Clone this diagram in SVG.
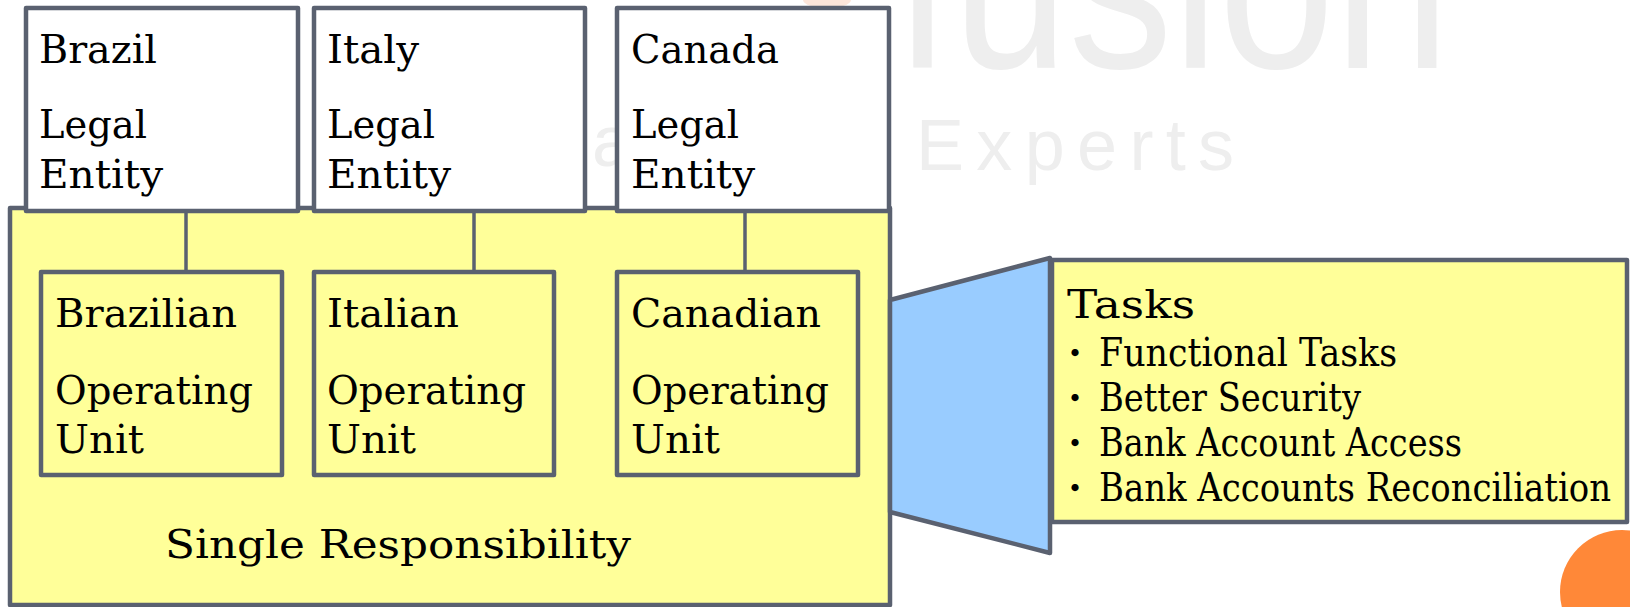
<svg xmlns="http://www.w3.org/2000/svg" width="1630" height="607" viewBox="0 0 1630 607">
<style>
.box{stroke:#5a6170;stroke-width:4.5;stroke-linejoin:round}
.le{fill:#ffffff}
.yl{fill:#ffff99}
.t{font-family:"DejaVu Serif","Liberation Serif",serif;font-size:40px;fill:#000}
.wm{font-family:"Liberation Sans","DejaVu Sans",sans-serif;fill:#eeeeee}
.ln{stroke:#5a6170;stroke-width:3.5;fill:none}
</style>
<rect width="1630" height="607" fill="#ffffff"/>
<g id="watermark">
<ellipse cx="827" cy="0" rx="24" ry="8" fill="#fde6da"/>
<text class="wm" x="895" y="68" font-size="240" textLength="555" lengthAdjust="spacingAndGlyphs">fusion</text>
<text class="wm" x="592" y="166" font-size="72" fill="#f2f2f2">a</text>
<text class="wm" x="916" y="170" font-size="72" textLength="318" lengthAdjust="spacing">Experts</text>
</g>
<circle cx="1622" cy="592" r="62" fill="#ff8838"/>
<g id="single-responsibility">
<rect class="box yl" x="10" y="208" width="880" height="397"/>
<text class="t" x="165" y="558" font-size="44" textLength="466" lengthAdjust="spacingAndGlyphs">Single Responsibility</text>
</g>
<g id="connectors">
<line class="ln" x1="186" y1="211" x2="186" y2="272"/>
<line class="ln" x1="474" y1="211" x2="474" y2="272"/>
<line class="ln" x1="745" y1="211" x2="745" y2="272"/>
<polygon points="890,300 1050,258 1050,553 890,512" fill="#99ccff" stroke="#5a6170" stroke-width="4.5" stroke-linejoin="round"/>
</g>
<g id="brazil-le">
<rect class="box le" x="26" y="8" width="272" height="203"/>
<text class="t" x="39" y="63" textLength="118" lengthAdjust="spacingAndGlyphs">Brazil</text>
<text class="t" x="39" y="138" textLength="108" lengthAdjust="spacingAndGlyphs">Legal</text>
<text class="t" x="39" y="188" textLength="124" lengthAdjust="spacingAndGlyphs">Entity</text>
</g>
<g id="italy-le">
<rect class="box le" x="314" y="8" width="271" height="203"/>
<text class="t" x="327" y="63" textLength="92" lengthAdjust="spacingAndGlyphs">Italy</text>
<text class="t" x="327" y="138" textLength="108" lengthAdjust="spacingAndGlyphs">Legal</text>
<text class="t" x="327" y="188" textLength="124" lengthAdjust="spacingAndGlyphs">Entity</text>
</g>
<g id="canada-le">
<rect class="box le" x="617" y="8" width="272" height="203"/>
<text class="t" x="631" y="63" textLength="148" lengthAdjust="spacingAndGlyphs">Canada</text>
<text class="t" x="631" y="138" textLength="108" lengthAdjust="spacingAndGlyphs">Legal</text>
<text class="t" x="631" y="188" textLength="124" lengthAdjust="spacingAndGlyphs">Entity</text>
</g>
<g id="brazil-ou">
<rect class="box yl" x="41" y="272" width="241" height="203"/>
<text class="t" x="55" y="327" textLength="182" lengthAdjust="spacingAndGlyphs">Brazilian</text>
<text class="t" x="55" y="404" textLength="198" lengthAdjust="spacingAndGlyphs">Operating</text>
<text class="t" x="55" y="453" textLength="89" lengthAdjust="spacingAndGlyphs">Unit</text>
</g>
<g id="italy-ou">
<rect class="box yl" x="314" y="272" width="240" height="203"/>
<text class="t" x="327" y="327" textLength="132" lengthAdjust="spacingAndGlyphs">Italian</text>
<text class="t" x="327" y="404" textLength="199" lengthAdjust="spacingAndGlyphs">Operating</text>
<text class="t" x="327" y="453" textLength="89" lengthAdjust="spacingAndGlyphs">Unit</text>
</g>
<g id="canada-ou">
<rect class="box yl" x="617" y="272" width="241" height="203"/>
<text class="t" x="631" y="327" textLength="190" lengthAdjust="spacingAndGlyphs">Canadian</text>
<text class="t" x="631" y="404" textLength="198" lengthAdjust="spacingAndGlyphs">Operating</text>
<text class="t" x="631" y="453" textLength="89" lengthAdjust="spacingAndGlyphs">Unit</text>
</g>
<g id="tasks">
<rect class="box yl" x="1052" y="260" width="575" height="262"/>
<text class="t" x="1067" y="318" font-size="44" textLength="128" lengthAdjust="spacingAndGlyphs">Tasks</text>
<g font-family="'Noto Sans CJK JP',sans-serif" font-size="34" fill="#000">
<text x="1058" y="366">・</text>
<text x="1058" y="411">・</text>
<text x="1058" y="456">・</text>
<text x="1058" y="501">・</text>
</g>
<text class="t" x="1099" y="366" font-size="34" textLength="298" lengthAdjust="spacingAndGlyphs">Functional Tasks</text>
<text class="t" x="1099" y="411" font-size="34" textLength="262" lengthAdjust="spacingAndGlyphs">Better Security</text>
<text class="t" x="1099" y="456" font-size="34" textLength="363" lengthAdjust="spacingAndGlyphs">Bank Account Access</text>
<text class="t" x="1099" y="501" font-size="34" textLength="512" lengthAdjust="spacingAndGlyphs">Bank Accounts Reconciliation</text>
</g>
</svg>
